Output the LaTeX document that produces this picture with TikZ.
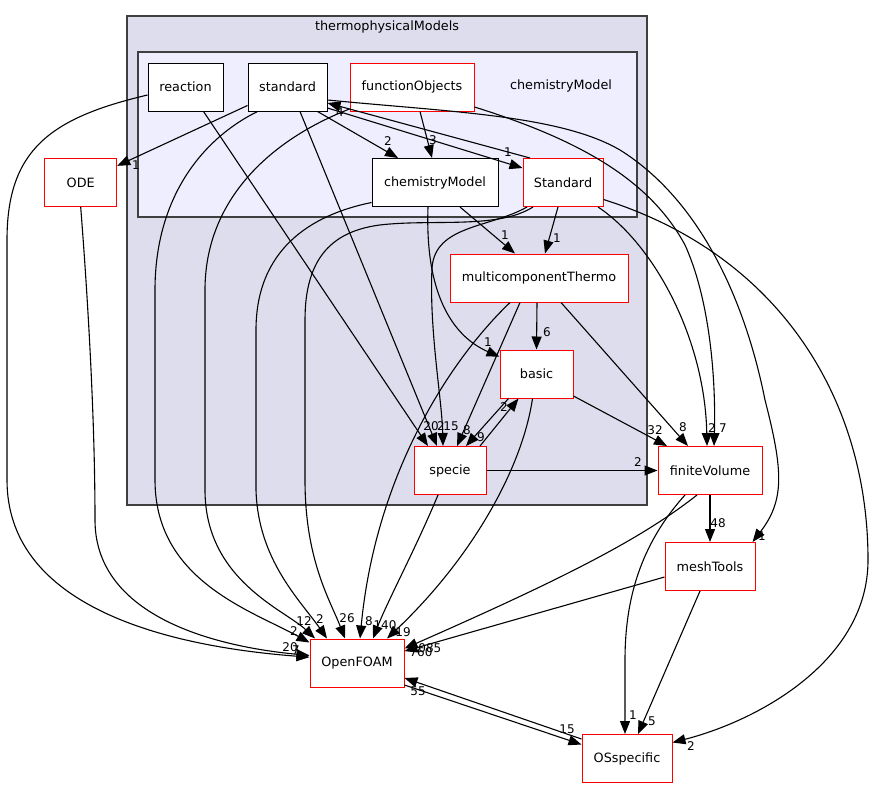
\documentclass[tikz,border=0pt]{standalone}
\usepackage{fontspec}
\setmainfont{DejaVu Sans}
\usetikzlibrary{arrows.meta}
\definecolor{outerfill}{HTML}{DDDDEE}
\definecolor{innerfill}{HTML}{EEEEFF}
\definecolor{clborder}{HTML}{3F3F3F}
\begin{document}
\begin{tikzpicture}[x=1pt,y=-1pt,
  box/.style={draw=black, fill=white, line width=1pt, minimum height=48pt, inner sep=0pt, font=\fontsize{12.8pt}{15pt}\selectfont},
  redbox/.style={box, draw=red},
  e/.style={draw=black, line width=1.1pt, -{Triangle[length=13pt,width=10pt]}},
  lbl/.style={font=\fontsize{12pt}{14pt}\selectfont, inner sep=0pt},
  cl/.style={draw=clborder, line width=1.1pt},
  cltext/.style={font=\fontsize{12.8pt}{15pt}\selectfont, inner sep=0pt}
]
\useasboundingbox (0,0) rectangle (874,788);
% clusters
\draw[cl, fill=outerfill] (127,16) rectangle (647,505);
\node[cltext] (tmlabel) at (387,27) {thermophysicalModels};
\draw[cl, fill=innerfill] (138,52) rectangle (637,217);
\node[cltext] (cmlabel) at (561,86) {chemistryModel};

% nodes
\node[box, minimum width=75pt] (reaction) at (185.5,87) {reaction};
\node[box, minimum width=79pt] (standard) at (287.5,87) {standard};
\node[redbox, minimum width=124pt] (fO) at (412,87) {functionObjects};
\node[box, minimum width=126pt] (cm) at (435,182.5) {chemistryModel};
\node[redbox, minimum width=80pt] (StdU) at (563,182.5) {Standard};
\node[redbox, minimum width=178pt] (mcT) at (539,278) {multicomponentThermo};
\node[redbox, minimum width=73pt] (basic) at (536.5,374) {basic};
\node[redbox, minimum width=72pt] (specie) at (450,470.5) {specie};
\node[redbox, minimum width=104pt] (fV) at (710,470.5) {finiteVolume};
\node[redbox, minimum width=90pt] (mT) at (710,566.5) {meshTools};
\node[redbox, minimum width=94pt] (OF) at (357,663) {OpenFOAM};
\node[redbox, minimum width=90pt] (OSs) at (627,758.5) {OSspecific};
\node[redbox, minimum width=72pt] (ODE) at (80.7,182.7) {ODE};

% edges
\draw[e] (standard) -- (ODE);
\draw[e] ([yshift=-8pt]reaction.west) .. controls (50,118) and (7,150) .. (7,240) -- (7,480) .. controls (7,600) and (150,645) .. (OF.173);
\draw[e] (ODE.south) .. controls (88,300) and (95,420) .. (95,520) .. controls (95,610) and (200,645) .. (OF.171);
\draw[e] ([xshift=18pt]reaction.south) -- ([xshift=-22pt]specie.north);
\draw[e] ([xshift=12.5pt]standard.south) -- ([xshift=-13pt]specie.north);
\draw[e] ([xshift=-30pt]standard.south) .. controls (200,140) and (155,200) .. (155,290) -- (155,480) .. controls (155,580) and (250,610) .. ([yshift=-4pt]OF.north west);
\draw[e] ([yshift=-22pt]fO.west) .. controls (270,140) and (205,200) .. (205,290) -- (205,490) .. controls (205,580) and (285,610) .. ([xshift=-42pt]OF.north);
\draw[e] ([yshift=-20pt]cm.west) .. controls (310,215) and (256,250) .. (256,330) -- (256,490) .. controls (258,560) and (300,600) .. ([xshift=-30pt]OF.north);
\draw[e] ([xshift=-30pt]StdU.south) .. controls (500,228) and (440,220) .. (390,224) .. controls (330,228) and (305,260) .. (305,320) -- (305,480) .. controls (305,560) and (330,600) .. ([xshift=-12pt]OF.north);
\draw[e] ([xshift=-36pt]StdU.south) .. controls (490,228) and (435,225) .. (432,268) .. controls (429,330) and (442,400) .. ([xshift=-7pt]specie.north);
\draw[e] ([xshift=-7pt]cm.south) .. controls (425,290) and (450,335) .. (basic.155);
\draw[e] ([xshift=-29pt]mcT.south) .. controls (445,365) and (375,480) .. ([xshift=3pt]OF.north);
\draw[e] ([xshift=-12pt]specie.south) .. controls (415,550) and (388,600) .. ([xshift=16pt]OF.north);
\draw[e] ([xshift=-4pt]basic.south) .. controls (522,470) and (470,560) .. ([xshift=30pt]OF.north);
\draw[e] ([xshift=-13pt]fV.south) .. controls (640,540) and (560,580) .. (OF.17);
\draw[e] ([yshift=-10.5pt]mT.west) -- (OF.14);
\draw[e] ([xshift=-25pt]fV.south) .. controls (640,545) and (625,600) .. (625,660) -- ([xshift=-2pt]OSs.north);
\draw[e] ([xshift=-10pt]mT.south) -- ([xshift=11pt]OSs.north);
\draw[e] ([yshift=-22pt]OF.east) -- ([yshift=14pt]OSs.west);
\draw[e] ([yshift=19.5pt]OSs.west) -- ([yshift=-15pt]OF.east);
\draw[e] ([yshift=-17pt]StdU.east) .. controls (780,255) and (868,400) .. (868,560) .. controls (868,660) and (760,720) .. ([yshift=16pt]OSs.east);
\draw[e] ([xshift=35pt]StdU.south) .. controls (655,245) and (705,340) .. ([xshift=-3pt]fV.north);
\draw[e] ([yshift=-20pt]fO.east) .. controls (580,140) and (650,180) .. (685,245) .. controls (710,300) and (716,380) .. ([xshift=4pt]fV.north);
\draw[e] ([yshift=-13pt]standard.east) .. controls (450,112) and (560,115) .. (620,150) .. controls (700,200) and (745,300) .. (765,400) .. controls (783,470) and (785,500) .. ([xshift=-3pt]mT.north east);
\draw[e] ([xshift=-33pt]StdU.north) -- ([yshift=-16pt]standard.east);
\draw[e] ([yshift=-21pt]standard.east) -- ([yshift=14.5pt]StdU.west);
\draw[e] ([xshift=30pt]standard.south) -- ([xshift=-37pt]cm.north);
\draw[e] ([xshift=8pt]fO.south) -- ([xshift=-3pt]cm.north);
\draw[e] ([xshift=25pt]cm.south) -- ([xshift=-24pt]mcT.north);
\draw[e] ([xshift=-5pt]StdU.south) -- ([xshift=6pt]mcT.north);
\draw[e] ([xshift=-2pt]mcT.south) -- (basic.north);
\draw[e] ([xshift=-19pt]mcT.south) -- ([xshift=7pt]specie.north);
\draw[e] ([xshift=22pt]mcT.south) -- ([xshift=-22pt]fV.north);
\draw[e] ([yshift=-22pt]basic.east) -- ([xshift=-43pt]fV.north);
\draw[e] (specie.east) -- (fV.west);
\draw[e] (fV.south) -- (mT.north);
\draw[e] ([xshift=30pt]specie.north) -- ([xshift=-18pt]basic.south);
\draw[e] ([xshift=-28pt]basic.south) -- ([xshift=16pt]specie.north);

% labels
\node[lbl] (l1) at (136,165) {1};
\node[lbl] (l2) at (388,141) {2};
\node[lbl] (l3) at (433,140) {3};
\node[lbl] (l4) at (508,152) {1};
\node[lbl] (l5) at (340,112) {4};
\node[lbl] (l6) at (505,235) {1};
\node[lbl] (l7) at (557,238) {1};
\node[lbl] (l8) at (547,332) {6};
\node[lbl] (l9) at (488,342) {1};
\node[lbl] (l10) at (431,426) {20};
\node[lbl] (l11) at (441,426) {2};
\node[lbl] (l12) at (451,426) {15};
\node[lbl] (l13) at (467,430) {8};
\node[lbl] (l14) at (481,437) {9};
\node[lbl] (l15) at (504,407) {2};
\node[lbl] (l16) at (655,430) {32};
\node[lbl] (l17) at (683,427) {8};
\node[lbl] (l18) at (712,428) {2};
\node[lbl] (l19) at (723,428) {7};
\node[lbl] (l20) at (638,462) {2};
\node[lbl] (l21) at (718,523) {48};
\node[lbl] (l22) at (762,536) {1};
\node[lbl] (l23) at (294,631) {2};
\node[lbl] (l24) at (304,621) {12};
\node[lbl] (l25) at (320,619) {2};
\node[lbl] (l26) at (347,618) {26};
\node[lbl] (l27) at (369,621) {8};
\node[lbl] (l28) at (385,625) {140};
\node[lbl] (l29) at (403,632) {19};
\node[lbl] (l30) at (290,647) {20};
\node[lbl] (l31) at (296,650) {7};
\node[lbl] (l32) at (426,648) {7085};
\node[lbl] (l33) at (421,652) {760};
\node[lbl] (l34) at (418,691) {55};
\node[lbl] (l35) at (567,729) {15};
\node[lbl] (l36) at (633,715) {1};
\node[lbl] (l37) at (652,721) {5};
\node[lbl] (l38) at (691,746) {2};
\end{tikzpicture}
\end{document}
